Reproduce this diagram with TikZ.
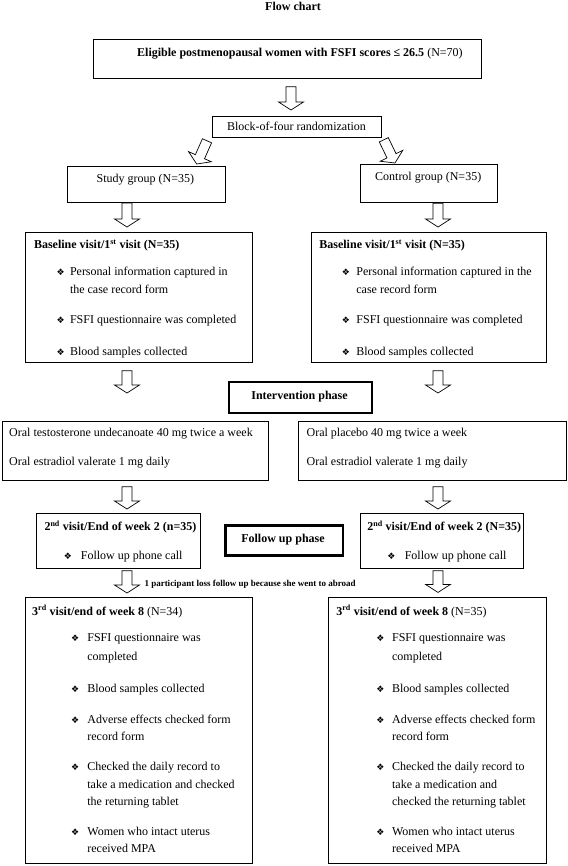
\documentclass[tikz,border=0pt]{standalone}
\usepackage{fontspec}
\setmainfont{Liberation Serif}
\newfontfamily\symfont{DejaVu Sans}
\usetikzlibrary{calc}
\newcommand{\bulsym}{{\symfont\fontsize{9}{9}\selectfont ❖}}

\begin{document}
\begin{tikzpicture}[x=1pt, y=-1pt,
		box/.style={draw, line width=0.8pt, inner sep=0pt, anchor=north west},
		phase/.style={draw, line width=2.2pt, inner sep=0pt, anchor=north west},
		txt/.style={anchor=base west, inner sep=0pt, font=\fontsize{12}{14}\selectfont},
		head/.style={txt, font=\fontsize{12}{14}\selectfont\bfseries},
		ctxt/.style={anchor=base, inner sep=0pt, font=\fontsize{12}{14}\selectfont},
		bul/.style={anchor=base west, inner sep=0pt},
		fatarrow/.style={draw, line width=0.7pt, line join=miter, to path={
				let \p1=(\tikztostart), \p2=(\tikztotarget),
				\n1={atan2(\y2-\y1,\x2-\x1)}, \n2={veclen(\x2-\x1,\y2-\y1)} in
				[shift={(\p1)}, rotate=\n1]
				(0pt,-5pt) -- ({\n2*1pt-8pt},-5pt) -- ({\n2*1pt-8pt},-12.5pt) -- ({\n2*1pt},0pt)
				-- ({\n2*1pt-8pt},12.5pt) -- ({\n2*1pt-8pt},5pt) -- (0pt,5pt) -- cycle}}]
		\useasboundingbox (0,0) rectangle (567,866);

		% Columns of the arrows
		\coordinate (colL) at (127,0);
		\coordinate (colM) at (291,0);
		\coordinate (colR) at (438,0);

		% Title and eligible women
		\node[ctxt, font=\fontsize{12}{14}\selectfont\bfseries] (title) at (293,10.5) {Flow chart};
		\node[box, minimum width=388pt, minimum height=39pt] (top) at (93,39) {};
		\node[txt] (toptxt) at (137,57) {\textbf{Eligible postmenopausal women with FSFI scores ≤ 26.5} (N=70)};

		% Randomization and the two groups
		\node[box, minimum width=169pt, minimum height=21pt] (rand) at (212,116) {};
		\node[ctxt] (randtxt) at (296.5,131) {Block-of-four randomization};
		\node[box, minimum width=158pt, minimum height=36pt] (study) at (66.5,165.7) {};
		\node[ctxt] (studytxt) at (145.4,182.5) {Study group (N=35)};
		\node[box, minimum width=137pt, minimum height=37.7pt] (control) at (360,164.3) {};
		\node[ctxt] (controltxt) at (428.2,181) {Control group (N=35)};

		% Baseline visit
		\node[box, minimum width=226.8pt, minimum height=130.6pt] (base1) at (24.7,231.7) {};
		\node[head] (base1h) at (33.8,249) {Baseline visit/1\textsuperscript{st} visit (N=35)};
		\foreach \y/\t [count=\i] in {275.7/Personal information captured in, 294/the case record form,
				323.3/FSFI questionnaire was completed, 355/Blood samples collected}
			\node[txt] (base1l\i) at (69.8,\y) {\t};
		\foreach \y [count=\i] in {275.7, 323.3, 355}
			\node[bul] (base1b\i) at (56.3,\y) {\bulsym};

		\node[box, minimum width=235.2pt, minimum height=130.6pt] (base2) at (310.8,231.7) {};
		\node[head] (base2h) at (319.2,249) {Baseline visit/1\textsuperscript{st} visit (N=35)};
		\foreach \y/\t [count=\i] in {275.7/Personal information captured in the, 294/case record form,
				323.3/FSFI questionnaire was completed, 355/Blood samples collected}
			\node[txt] (base2l\i) at (356.2,\y) {\t};
		\foreach \y [count=\i] in {275.7, 323.3, 355}
			\node[bul] (base2b\i) at (341.7,\y) {\bulsym};

		% Intervention phase
		\node[phase, minimum width=143pt, minimum height=31pt] (interv) at (228,381) {};
		\node[ctxt, font=\fontsize{12}{14}\selectfont\bfseries] (intervtxt) at (299.5,399) {Intervention phase};
		\node[box, minimum width=266.3pt, minimum height=59.3pt] (drug1) at (2,420.7) {};
		\node[txt] (drug1a) at (9,436.7) {Oral testosterone undecanoate 40 mg twice a week};
		\node[txt] (drug1b) at (9,465) {Oral estradiol valerate 1 mg daily};
		\node[box, minimum width=268pt, minimum height=59.3pt] (drug2) at (298,420.7) {};
		\node[txt] (drug2a) at (306.4,436.7) {Oral placebo 40 mg twice a week};
		\node[txt] (drug2b) at (306.4,465) {Oral estradiol valerate 1 mg daily};

		% Follow up phase
		\node[box, minimum width=164.4pt, minimum height=55pt] (visit2a) at (35.6,513.3) {};
		\node[head] (visit2ah) at (44.3,530.7) {2\textsuperscript{nd} visit/End of week 2 (n=35)};
		\node[bul] (visit2ab) at (63.6,559) {\bulsym};
		\node[txt] (visit2al) at (80.7,559) {Follow up phone call};
		\node[phase, minimum width=117.4pt, minimum height=30pt] (follow) at (224.3,524.3) {};
		\node[ctxt, font=\fontsize{12}{14}\selectfont\bfseries] (followtxt) at (283,542) {Follow up phase};
		\node[box, minimum width=163.4pt, minimum height=55pt] (visit2b) at (360,513.3) {};
		\node[head] (visit2bh) at (367.1,530.7) {2\textsuperscript{nd} visit/End of week 2 (N=35)};
		\node[bul] (visit2bb) at (387.1,559) {\bulsym};
		\node[txt] (visit2bl) at (404.6,559) {Follow up phone call};

		\node[txt, font=\fontsize{9}{11}\selectfont\bfseries] (loss) at (144.3,586) {1 participant loss follow up because she went to abroad};

		% Third visit
		\node[box, minimum width=226.8pt, minimum height=266pt] (visit3a) at (24.7,597.3) {};
		\node[txt] (visit3ah) at (32,615) {\textbf{3\textsuperscript{rd} visit/end of week 8} (N=34)};
		\foreach \y/\t [count=\i] in {641.7/FSFI questionnaire was, 660.7/completed, 692.3/Blood samples collected,
				723.3/Adverse effects checked form, 740/record form, 770.7/Checked the daily record to,
				788/take a medication and checked, 805.7/the returning tablet, 835/Women who intact uterus,
				852.3/received MPA}
			\node[txt] (visit3al\i) at (87.2,\y) {\t};
		\foreach \y [count=\i] in {641.7, 692.3, 723.3, 770.7, 835}
			\node[bul] (visit3ab\i) at (70.9,\y) {\bulsym};

		\node[box, minimum width=217.8pt, minimum height=266.6pt] (visit3b) at (328.2,596.7) {};
		\node[txt] (visit3bh) at (336.2,615) {\textbf{3\textsuperscript{rd} visit/end of week 8} (N=35)};
		\foreach \y/\t [count=\i] in {641.7/FSFI questionnaire was, 660.7/completed, 692.3/Blood samples collected,
				723.3/Adverse effects checked form, 740/record form, 770.7/Checked the daily record to,
				788/take a medication and, 805.7/checked the returning tablet, 835/Women who intact uterus,
				852.3/received MPA}
			\node[txt] (visit3bl\i) at (391.9,\y) {\t};
		\foreach \y [count=\i] in {641.7, 692.3, 723.3, 770.7, 835}
			\node[bul] (visit3bb\i) at (376.2,\y) {\bulsym};

		% Block arrows
		\draw[fatarrow] ($(top.south -| colM)+(0,8)$) to ($(rand.north -| colM)+(0,-6)$);
		\draw[fatarrow] ($(rand.south west)+(-5,3)$) to ($(study.north east)+(-28.6,-1.7)$);
		\draw[fatarrow] ($(rand.south east)+(2,2)$) to ($(control.north west)+(35,-1.3)$);
		\draw[fatarrow] ($(study.south -| colL)+(0,0.5)$) to ($(base1.north -| colL)+(0,-4.7)$);
		\draw[fatarrow] ($(control.south -| colR)+(0,0.5)$) to ($(base2.north -| colR)+(0,-4.7)$);
		\draw[fatarrow] ($(base1.south -| colL)+(0,7.7)$) to ($(drug1.north -| colL)+(0,-27.7)$);
		\draw[fatarrow] ($(base2.south -| colR)+(0,7.7)$) to ($(drug2.north -| colR)+(0,-27.7)$);
		\draw[fatarrow] ($(drug1.south -| colL)+(0,6)$) to ($(visit2a.north -| colL)+(0,-4.3)$);
		\draw[fatarrow] ($(drug2.south -| colR)+(0,6)$) to ($(visit2b.north -| colR)+(0,-4.3)$);
		\draw[fatarrow] ($(visit2a.south -| colL)+(0,1.7)$) to ($(visit3a.north -| colL)+(0,-4.3)$);
		\draw[fatarrow] ($(visit2b.south -| colR)+(0,1.7)$) to ($(visit3b.north -| colR)+(0,-4.3)$);
	\end{tikzpicture}
\end{document}
